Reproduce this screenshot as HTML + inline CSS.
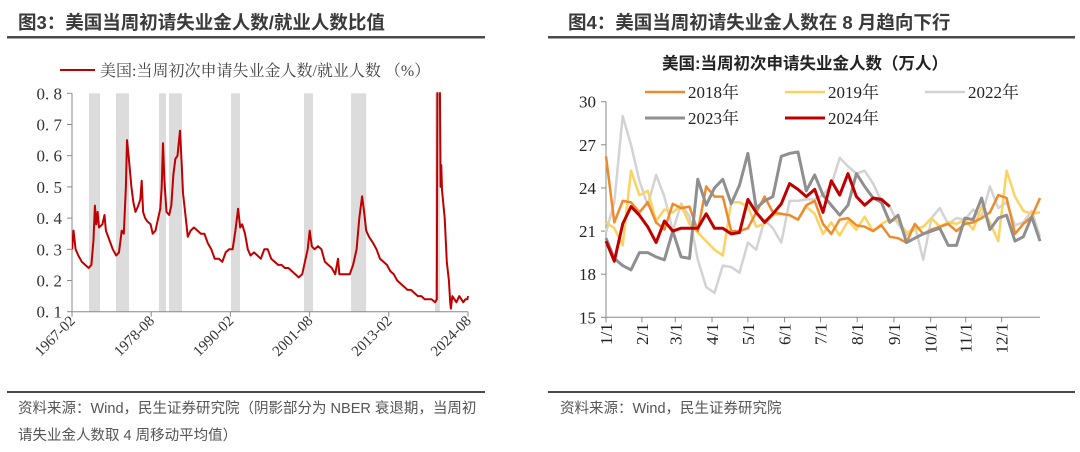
<!DOCTYPE html>
<html><head><meta charset="utf-8"><style>
html,body{margin:0;padding:0;background:#fff;}
svg{display:block;font-family:"Liberation Sans","Noto Sans CJK SC",sans-serif;}
.ser{font-family:"Liberation Serif","Noto Serif CJK SC",serif;}
</style></head><body>
<svg id="root" width="1080" height="452" viewBox="0 0 1080 452">
<text x="18" y="29" font-size="18.5" font-weight="bold" fill="#3a3a3a">图3：美国当周初请失业金人数/就业人数比值</text>
<rect x="7" y="36" width="478" height="2.5" fill="#4a4a4a"/>
<text x="568" y="29" font-size="18.5" font-weight="bold" fill="#3a3a3a">图4：美国当周初请失业金人数在 8 月趋向下行</text>
<rect x="548" y="36" width="527" height="2.5" fill="#4a4a4a"/>
<rect x="7" y="391" width="478" height="2" fill="#4a4a4a"/>
<rect x="548" y="391" width="527" height="2" fill="#4a4a4a"/>
<text x="18" y="413" font-size="14.5" fill="#555">资料来源：Wind，民生证券研究院（阴影部分为 NBER 衰退期，当周初</text>
<text x="18" y="440" font-size="14.5" fill="#555">请失业金人数取 4 周移动平均值）</text>
<text x="560" y="413" font-size="14.5" fill="#555">资料来源：Wind，民生证券研究院</text>
<g id="left"></g>
<g id="right"></g>
</svg>
<script>
// ---------- Left chart data ----------
const ratioYears = [1967.1,1967.3,1967.6,1968,1968.5,1969,1969.5,1969.9,1970.2,1970.4,1970.6,1970.8,1971,1971.5,1971.8,1972,1972.5,1973,1973.5,1973.9,1974.3,1974.6,1974.9,1975.07,1975.3,1975.7,1976,1976.3,1976.7,1977,1977.2,1977.4,1977.7,1978,1978.5,1978.8,1979.2,1979.6,1979.9,1980.1,1980.3,1980.5,1980.8,1981.2,1981.5,1981.8,1982.1,1982.4,1982.76,1983.0,1983.2,1983.5,1983.9,1984.3,1984.8,1985.3,1985.8,1986.3,1986.8,1987.3,1987.8,1988.4,1988.9,1989.4,1989.9,1990.4,1990.8,1991.2,1991.5,1991.8,1992.2,1992.6,1993,1993.5,1994,1994.5,1995,1995.5,1996,1996.5,1997,1997.5,1998,1998.5,1999,1999.5,2000,2000.5,2001,2001.3,2001.6,2001.9,2002.3,2002.8,2003.3,2003.8,2004.3,2004.8,2005.3,2005.7,2005.9,2006.4,2006.9,2007.4,2007.9,2008.4,2008.8,2009.2,2009.5,2009.8,2010.2,2010.8,2011.3,2011.8,2012.3,2012.8,2013.3,2013.8,2014.3,2014.8,2015.3,2015.8,2016.3,2016.8,2017.3,2017.8,2018.3,2018.8,2019.3,2019.8,2020.05,2020.15,2020.45,2020.6,2020.7,2020.8,2021.2,2021.5,2021.8,2022.0,2022.1,2022.3,2022.6,2022.9,2023.3,2023.6,2023.9,2024.2,2024.5,2024.58];
const ratioValues = [0.30,0.36,0.30,0.28,0.26,0.25,0.24,0.25,0.33,0.44,0.38,0.42,0.37,0.38,0.41,0.36,0.33,0.30,0.28,0.29,0.36,0.35,0.50,0.65,0.60,0.50,0.45,0.42,0.44,0.46,0.52,0.42,0.40,0.39,0.38,0.35,0.36,0.40,0.43,0.50,0.64,0.52,0.42,0.41,0.44,0.54,0.59,0.60,0.68,0.58,0.48,0.42,0.34,0.36,0.37,0.36,0.35,0.35,0.32,0.30,0.27,0.27,0.26,0.29,0.30,0.30,0.36,0.43,0.37,0.38,0.35,0.30,0.28,0.29,0.28,0.27,0.30,0.30,0.27,0.26,0.25,0.25,0.24,0.24,0.23,0.22,0.21,0.22,0.27,0.30,0.36,0.31,0.30,0.31,0.30,0.26,0.25,0.24,0.22,0.27,0.22,0.22,0.22,0.22,0.25,0.30,0.40,0.47,0.42,0.36,0.34,0.32,0.30,0.27,0.26,0.25,0.23,0.22,0.20,0.19,0.18,0.17,0.17,0.16,0.15,0.15,0.14,0.14,0.14,0.13,0.14,0.95,0.95,0.50,0.57,0.49,0.40,0.26,0.20,0.13,0.11,0.15,0.14,0.13,0.15,0.14,0.13,0.14,0.14,0.15];
const recessionStarts = [1969.55,1973.47,1979.71,1981.16,1990.17,2000.77,2007.6,2019.8];
const recessionEnds   = [1971.15,1975.36,1980.73,1983.05,1991.47,2002.08,2009.8,2020.5];
const ratioTicks = [0.1,0.2,0.3,0.4,0.5,0.6,0.7,0.8];
const ratioTickLabels = ["0. 1","0. 2","0. 3","0. 4","0. 5","0. 6","0. 7","0. 8"];
const dateTicks = [1967.08,1978.58,1990.08,2001.58,2013.08,2024.58];
const dateTickLabels = ["1967-02","1978-08","1990-02","2001-08","2013-02","2024-08"];

// ---------- Right chart data ----------
const weekTickLabels = ["1/1","2/1","3/1","4/1","5/1","6/1","7/1","8/1","9/1","10/1","11/1","12/1"];
const weekTickIdx = [0,4.3,8.3,12.7,17,21.4,25.7,30.1,34.5,38.9,43.1,47.4];
const claimsTicks = [15,18,21,24,27,30];
const seriesNames = ["2018年","2019年","2022年","2023年","2024年"];
const s2018 = [26.2,21.6,23.1,23.0,22.3,23.0,21.6,21.1,22.9,22.6,22.7,21.0,24.1,23.4,23.4,21.0,21.0,21.2,22.3,23.4,22.3,22.2,22.1,21.8,22.8,23.1,21.5,20.8,21.8,21.9,21.4,21.3,21.0,21.4,20.6,20.5,20.2,21.5,20.8,21.1,21.3,21.5,21.0,21.5,21.6,21.9,22.3,23.5,23.3,20.8,21.5,22.0,23.3];
const s2019 = [21.6,21.2,20.0,25.2,23.5,23.8,21.7,22.5,22.3,22.8,21.5,20.9,20.3,19.7,19.3,23.0,23.0,22.7,21.3,21.5,22.1,22.2,22.1,21.8,22.7,22.2,20.8,21.6,20.7,21.7,21.1,22.0,21.0,21.5,21.8,21.7,20.9,21.1,21.3,21.9,21.3,21.6,21.5,21.8,21.1,22.7,21.6,20.3,25.2,23.4,22.4,22.2,22.3];
const s2022 = [20.9,23.0,29.0,27.0,24.5,22.8,24.9,23.4,21.0,22.9,22.0,19.0,17.1,16.7,18.6,18.5,18.1,20.2,19.7,21.8,21.2,20.2,23.1,23.1,23.2,23.2,23.5,24.2,26.1,25.5,25.0,25.2,24.3,23.1,22.7,21.5,20.7,21.4,19.0,21.9,22.6,21.5,21.9,21.8,22.5,22.0,24.1,22.6,23.0,21.4,21.6,22.4,20.6];
const s2023 = [20.5,19.1,18.6,18.3,19.5,19.5,19.2,19.0,21.0,19.2,19.1,24.6,22.8,24.0,24.6,22.9,24.2,26.4,22.6,23.1,23.4,26.2,26.4,26.5,23.8,24.9,23.5,22.8,22.1,22.8,25.0,24.1,23.3,23.0,21.6,22.1,20.2,20.5,20.8,21.0,21.2,20.0,20.0,21.9,21.8,23.3,21.1,21.9,22.1,20.3,20.6,22.0,20.3];
const s2024 = [20.3,18.9,21.5,22.7,22.1,21.3,20.2,21.7,21.0,21.2,21.2,21.2,22.2,21.2,21.2,20.8,20.9,23.2,22.3,21.6,22.2,22.9,24.3,23.9,23.4,23.9,22.3,24.5,23.5,25.0,23.4,22.8,23.3,23.2,22.7];

const NS = "http://www.w3.org/2000/svg";
function mk(parent, tag, attrs, text){
  const e = document.createElementNS(NS, tag);
  for (const k in attrs) e.setAttribute(k, attrs[k]);
  if (text !== undefined) e.textContent = text;
  parent.appendChild(e);
  return e;
}

// ---------- Left chart ----------
(function(){
  const g = document.getElementById('left');
  const X0=72, X1=468, Y0=311.7, Y1=93.3;
  const tx = t => X0 + (t-1967.08)/(2024.58-1967.08)*(X1-X0);
  const vy = v => Y0 - (v-0.1)/(0.8-0.1)*(Y0-Y1);
  recessionStarts.forEach((s,i)=>{
    const r = mk(g,'rect',{x:tx(s),y:Y1,width:tx(recessionEnds[i])-tx(s),height:Y0-Y1,fill:'#dcdcdc'});
    
    
  });
  const ya = mk(g,'line',{x1:X0,y1:Y1,x2:X0,y2:Y0,stroke:'#888','stroke-width':1});
  
  
  const xa = mk(g,'line',{x1:X0,y1:Y0,x2:X1,y2:Y0,stroke:'#888','stroke-width':1});
  
  
  ratioTicks.forEach((v,i)=>{
    mk(g,'line',{x1:X0-5,y1:vy(v),x2:X0,y2:vy(v),stroke:'#888'});
    const t = mk(g,'text',{x:X0-10,y:vy(v)+6,'font-size':17,'text-anchor':'end',fill:'#333','class':'ser'},ratioTickLabels[i]);
    
    
  });
  dateTicks.forEach((d,i)=>{
    const x = tx(d);
    mk(g,'line',{x1:x,y1:Y0,x2:x,y2:Y0+5,stroke:'#888'});
    const t = mk(g,'text',{x:x+4,y:Y0+10,'font-size':15,'text-anchor':'end',fill:'#333','class':'ser',transform:`rotate(-45 ${x+4} ${Y0+10})`},dateTickLabels[i]);
    
    
  });
  const cpath = mk(g,'clipPath',{id:'lclip'});
  mk(cpath,'rect',{x:X0,y:Y1-1,width:X1-X0+5,height:Y0-Y1+2});
  const d = ratioYears.map((t,i)=>(i?'L':'M')+tx(t).toFixed(1)+','+vy(ratioValues[i]).toFixed(1)).join('');
  const p = mk(g,'path',{d:d,fill:'none',stroke:'#c00000','stroke-width':2,'stroke-linejoin':'round','clip-path':'url(#lclip)'});
  
  
  const lg = mk(g,'g',{});
  
  
  mk(lg,'line',{x1:60,y1:70,x2:95,y2:70,stroke:'#c00000','stroke-width':2});
  mk(lg,'text',{x:100,y:76,'font-size':16,fill:'#444','class':'ser'},'美国:当周初次申请失业金人数/就业人数  （%）');
})();

// ---------- Right chart ----------
(function(){
  const g = document.getElementById('right');
  const X0=606, X1=1040, Y0=317.3, Y1=101.7;
  const wx = i => X0 + i*(X1-X0)/52;
  const vy = v => Y0 - (v-15)/(30-15)*(Y0-Y1);
  const t0 = mk(g,'text',{x:805,y:69,'font-size':16.5,'font-weight':'bold','text-anchor':'middle',fill:'#222'},'美国:当周初次申请失业金人数（万人）');
  
  
  const ya = mk(g,'line',{x1:X0,y1:Y1,x2:X0,y2:Y0,stroke:'#888'});
  
  
  const xa = mk(g,'line',{x1:X0,y1:Y0,x2:X1,y2:Y0,stroke:'#888'});
  
  
  claimsTicks.forEach(v=>{
    mk(g,'line',{x1:X0-5,y1:vy(v),x2:X0,y2:vy(v),stroke:'#888'});
    const t = mk(g,'text',{x:X0-10,y:vy(v)+6,'font-size':17,'text-anchor':'end',fill:'#222','class':'ser'},String(v));
    
    
  });
  weekTickIdx.forEach((w,i)=>{
    const x = wx(w);
    mk(g,'line',{x1:x,y1:Y0,x2:x,y2:Y0+5,stroke:'#888'});
    const t = mk(g,'text',{x:x+6,y:Y0+6,'font-size':17,'text-anchor':'end',fill:'#222','class':'ser',transform:`rotate(-90 ${x+6} ${Y0+6})`},weekTickLabels[i]);
    
    
  });
  const series = [s2018,s2019,s2022,s2023,s2024];
  const colors = ['#ee8a2e','#fcd262','#d3d3d3','#8f8f8f','#c00000'];
  const widths = [2.5,2.5,2.5,3,3];
  const order = [2,1,0,3,4];
  order.forEach(k=>{
    const d = series[k].map((v,i)=>(i?'L':'M')+wx(i).toFixed(1)+','+vy(v).toFixed(1)).join('');
    const p = mk(g,'path',{d:d,fill:'none',stroke:colors[k],'stroke-width':widths[k],'stroke-linejoin':'round'});
    
    
  });
  const lx = [645,785,925,645,785], ly = [92,92,92,118,118];
  seriesNames.forEach((n,k)=>{
    const lg = mk(g,'g',{});
    
    
    mk(lg,'line',{x1:lx[k],y1:ly[k],x2:lx[k]+40,y2:ly[k],stroke:colors[k],'stroke-width':widths[k]});
    mk(lg,'text',{x:lx[k]+43,y:ly[k]+6,'font-size':17,fill:'#222','class':'ser'},n);
  });
})();
</script>
</body></html>
